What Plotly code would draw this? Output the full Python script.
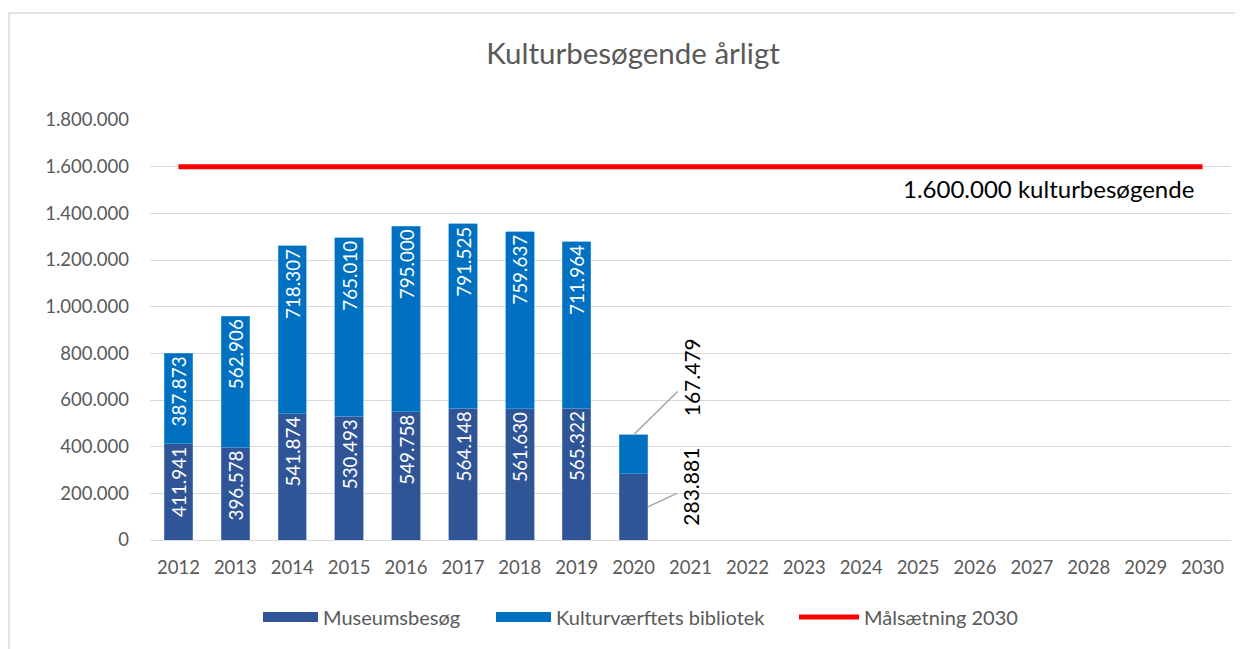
import plotly.graph_objects as go

years = list(range(2012, 2031))
museum = [411941, 396578, 541874, 530493, 549758, 564148, 561630, 565322, 283881]
library = [387873, 562906, 718307, 765010, 795000, 791525, 759637, 711964, 167479]
target = [1600000] * len(years)
bar_years = years[:len(museum)]
names = ["Museumsbesøg", "Kulturværftets bibliotek", "Målsætning 2030"]

def fmt(v):
    return f"{v:,}".replace(",", ".")

FONT = "Lato, 'Open Sans', sans-serif"
GRAY = "#595959"
DARK = "#2F5597"
LIGHT = "#0070C0"
RED = "#FF0000"

# page has an 8px body margin, so the figure is 8px smaller than the window
W, H = 1235, 641
ML, MR, MT, MB = 142, 12, 112, 109
PW, PH = W - ML - MR, H - MT - MB

def px(x):
    return (x - ML) / PW

def py(y):
    return (H - MB - y) / PH

fig = go.Figure()
m_text = [fmt(v) for v in museum[:-1]] + [""]
l_text = [fmt(v) for v in library[:-1]] + [""]

fig.add_trace(go.Bar(
    x=bar_years, y=museum, name=names[0], width=0.5, showlegend=False,
    marker=dict(color=DARK, line=dict(color="#6f8fc9", width=0.6)),
    text=m_text, textposition="inside", insidetextanchor="end", textangle=-90,
    textfont=dict(color="white", size=21, family=FONT),
))
fig.add_trace(go.Bar(
    x=bar_years, y=library, name=names[1], width=0.5, showlegend=False,
    marker=dict(color=LIGHT, line=dict(color="#4da3dd", width=0.6)),
    text=l_text, textposition="inside", insidetextanchor="end", textangle=-90,
    textfont=dict(color="white", size=21, family=FONT),
))
fig.add_trace(go.Scatter(
    x=years, y=target, name=names[2], mode="lines", showlegend=False,
    line=dict(color=RED, width=5),
))

# legend entries (one legend per entry so each can be placed like the original)
fig.add_trace(go.Scatter(x=[None], y=[None], mode="lines", name=names[0],
                         line=dict(color=DARK, width=10), legend="legend"))
fig.add_trace(go.Scatter(x=[None], y=[None], mode="lines", name=names[1],
                         line=dict(color=LIGHT, width=10), legend="legend2"))
fig.add_trace(go.Scatter(x=[None], y=[None], mode="lines", name=names[2],
                         line=dict(color=RED, width=5), legend="legend3"))

# 2020 outside labels with leader lines
last = len(museum) - 1
fig.add_annotation(x=bar_years[last] + 0.25, y=museum[last] / 2, xref="x", yref="y",
                   text=fmt(museum[last]), textangle=-90, showarrow=True, arrowhead=0,
                   arrowwidth=1.5, arrowcolor="#A6A6A6", ax=43, ay=-20,
                   font=dict(size=21, color="black", family=FONT))
fig.add_annotation(x=bar_years[last], y=museum[last] + library[last], xref="x", yref="y",
                   text=fmt(library[last]), textangle=-90, showarrow=True, arrowhead=0,
                   arrowwidth=1.5, arrowcolor="#A6A6A6", ax=58, ay=-57,
                   font=dict(size=21, color="black", family=FONT))

# target label
fig.add_annotation(x=years[-1], y=target[-1], xref="x", yref="y",
                   text="1.600.000 kulturbesøgende", showarrow=False,
                   xanchor="right", yanchor="middle", xshift=-7, yshift=-22,
                   font=dict(size=24, color="black", family=FONT))

# chart border
fig.add_shape(type="rect", xref="paper", yref="paper",
              x0=px(1), x1=px(W + 20), y0=py(H + 20), y1=py(5),
              line=dict(color="#D9D9D9", width=1.5), layer="below")

leg_common = dict(orientation="h", xanchor="left", yanchor="middle", y=py(609),
                  font=dict(size=20, color=GRAY, family=FONT),
                  bgcolor="rgba(0,0,0,0)")

fig.update_layout(
    width=W, height=H,
    margin=dict(l=ML, r=MR, t=MT, b=MB),
    paper_bgcolor="white", plot_bgcolor="white",
    barmode="stack",
    separators=",.",
    title=dict(text="Kulturbesøgende årligt", x=(633 - 8) / W, xref="container",
               xanchor="center", y=1 - (54 - 8) / H, yref="container", yanchor="middle",
               font=dict(size=29.5, color=GRAY, family=FONT)),
    font=dict(family=FONT, color=GRAY),
    legend=dict(x=px(255 - 5), itemwidth=55, **leg_common),
    legend2=dict(x=px(489 - 6), itemwidth=55, **leg_common),
    legend3=dict(x=px(792 - 6), itemwidth=60, **leg_common),
    xaxis=dict(range=[2011.5, 2030.5], tickmode="array", tickvals=years,
               ticktext=[str(y) for y in years], showgrid=False,
               showline=True, linecolor="#D9D9D9", linewidth=1, ticks="",
               ticklabelstandoff=11,
               tickfont=dict(size=18.5, color=GRAY, family=FONT)),
    yaxis=dict(range=[0, 1800000], tickvals=list(range(0, 1800001, 200000)),
               tickformat=",d", showgrid=True, gridcolor="#D9D9D9", gridwidth=1,
               zeroline=False, showline=False, ticks="", ticklabelstandoff=20,
               tickfont=dict(size=18.5, color=GRAY, family=FONT)),
)

fig.write_html("out.html")
